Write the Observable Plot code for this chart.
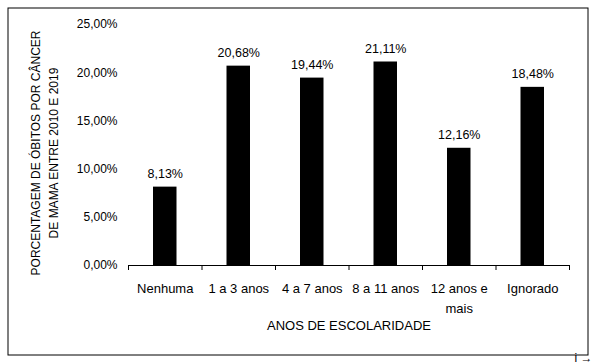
<!DOCTYPE html>
<html>
<head>
<meta charset="utf-8">
<script src="https://cdn.jsdelivr.net/npm/d3@7"></script>
<script src="https://cdn.jsdelivr.net/npm/@observablehq/plot@0.6"></script>
<style>
  html, body { margin: 0; padding: 0; background: #fff; }
  svg { display: block; overflow: visible; }
</style>
</head>
<body>
<div id="wrap"></div>
<script>
const categories = ["Nenhuma", "1 a 3 anos", "4 a 7 anos", "8 a 11 anos", "12 anos e\nmais", "Ignorado"];
const values = [8.13, 20.68, 19.44, 21.11, 12.16, 18.48];
const yTicks = [0, 5, 10, 15, 20, 25];
const xTitle = "ANOS DE ESCOLARIDADE";
const yTitle = "PORCENTAGEM DE ÓBITOS POR CÂNCER\nDE MAMA ENTRE 2010 E 2019";

const data = categories.map((c, i) => ({i, category: c, value: values[i]}));
const fmt = v => v.toFixed(2).replace(".", ",") + "%";
const font = "'Liberation Sans', Arial, sans-serif";

const M = {left: 128, right: 26, top: 24, bottom: 99};
const chart = Plot.plot({
  width: 595,
  height: 364,
  marginLeft: M.left,
  marginRight: M.right,
  marginTop: M.top,
  marginBottom: M.bottom,
  style: {fontFamily: font, fontSize: "12px", color: "#000", background: "#fff"},
  x: {domain: [0, categories.length], axis: null},
  y: {domain: [0, 25], axis: null},
  marks: [
    // outer chart border (decorative)
    Plot.frame({stroke: "#000", strokeWidth: 1,
      insetLeft: -(M.left - 7.5), insetRight: -(M.right - 7.5),
      insetTop: -(M.top - 7.5), insetBottom: -(M.bottom - 9.5)}),
    Plot.rectY(data, {x1: "i", x2: d => d.i + 1, y: "value", fill: "#000", insetLeft: 25, insetRight: 25}),
    Plot.ruleY([0], {stroke: "#000", strokeWidth: 1}),
    Plot.axisX({ticks: d3.range(categories.length + 1), tickFormat: () => "", tickSize: 5, stroke: "#000", strokeWidth: 1}),
    Plot.text(data, {x: d => d.i + 0.5, y: 0, text: "category", lineAnchor: "top", dy: 14, lineHeight: 1.5, fontSize: 13, fill: "#000"}),
    Plot.axisY({ticks: yTicks, tickFormat: fmt, tickSize: 0, tickPadding: 11, fontSize: 12, label: null, fill: "#000"}),
    Plot.text(data, {x: d => d.i + 0.5, y: "value", text: d => fmt(d.value), lineAnchor: "bottom", dy: -9, fontSize: 12.5, fill: "#000"}),
    Plot.text([xTitle], {frameAnchor: "bottom", dy: 60, lineAnchor: "middle", fontSize: 13, fill: "#000"}),
    Plot.text([yTitle], {frameAnchor: "left", textAnchor: "middle", rotate: -90, dx: -85.5, dy: 8, lineAnchor: "middle", lineHeight: 1.55, fontSize: 12, fill: "#000"})
  ]
});
document.getElementById("wrap").appendChild(chart);
</script>
</body>
</html>
